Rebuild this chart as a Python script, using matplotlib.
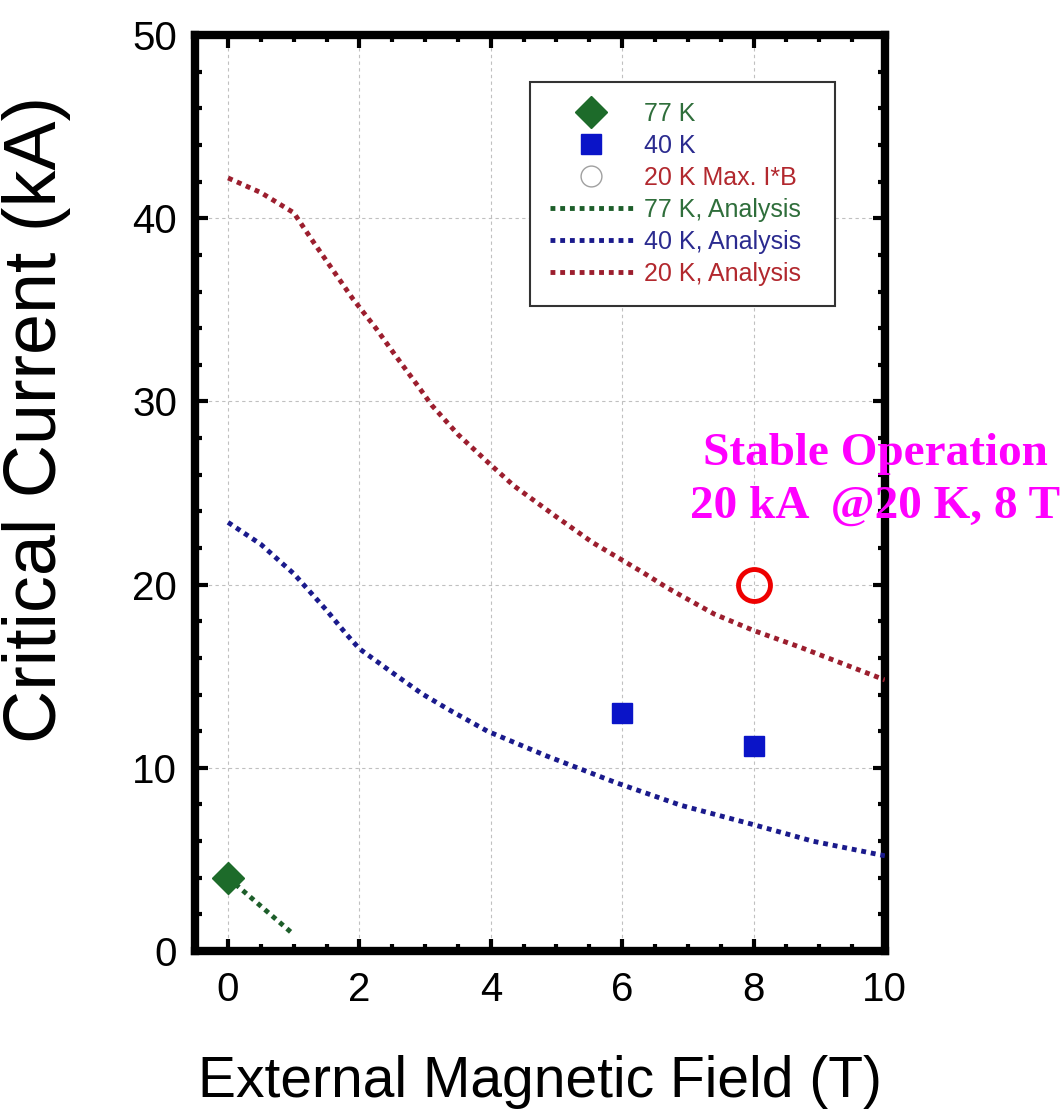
import matplotlib
matplotlib.use("Agg")
import matplotlib.pyplot as plt
from matplotlib.lines import Line2D
from matplotlib.ticker import MultipleLocator

plt.rcParams["font.family"] = ["Liberation Sans", "DejaVu Sans"]

# analysis curves
x20 = [0, 0.5, 1.0, 1.3, 1.6, 1.9, 2.25, 2.55, 2.9, 3.1, 3.5, 3.95, 4.35, 5.0,
       5.55, 6.3, 6.7, 7.4, 8.0, 8.7, 10.0]
i20 = [42.2, 41.4, 40.3, 38.7, 37.15, 35.6, 34.0, 32.5, 30.8, 29.8, 28.2, 26.7,
       25.4, 23.7, 22.3, 20.7, 19.8, 18.4, 17.5, 16.6, 14.8]
x40 = [0, 0.5, 1.0, 1.15, 1.5, 1.8, 2.0, 2.5, 2.95, 3.35, 3.95, 4.85, 5.9,
       6.9, 8.0, 8.9, 10.0]
i40 = [23.4, 22.2, 20.6, 20.0, 18.6, 17.3, 16.5, 15.2, 14.05, 13.2, 12.0,
       10.65, 9.2, 7.95, 6.9, 6.0, 5.2]
x77 = [0, 1.0]
i77 = [4.0, 0.9]

# measured points
xm77 = [0]
im77 = [4.0]
xm40 = [6, 8]
im40 = [13.0, 11.2]
xstable = [8]
istable = [20]

legend_labels = ["77 K", "40 K", "20 K Max. I*B",
                 "77 K, Analysis", "40 K, Analysis", "20 K, Analysis"]
text_colors = ["#2f6e3b", "#2b2b8f", "#b2282e", "#2f6e3b", "#2b2b8f", "#b2282e"]

fig = plt.figure(figsize=(10.61, 11.13), dpi=100)
ax = fig.add_axes([0.184, 0.1455, 0.650, 0.823])

dots = (0, (1, 1))
l77, = ax.plot(x77, i77, color="#1d5e2a", lw=3.5, ls=dots, zorder=3)
l40, = ax.plot(x40, i40, color="#1a1a8c", lw=3.5, ls=dots, zorder=3)
l20, = ax.plot(x20, i20, color="#9c1e2e", lw=3.5, ls=dots, zorder=3)

m77, = ax.plot(xm77, im77, ls="none", marker="D", ms=16, color="#1d6b2a", zorder=4)
m40, = ax.plot(xm40, im40, ls="none", marker="s", ms=14, color="#0a14c8", zorder=4)
ax.plot(xstable, istable, ls="none", marker="o", ms=23, mfc="none",
        mec="#ee0000", mew=3.5, zorder=5)
# legend entry for the max I*B point is a thin grey circle in the original
circ = Line2D([], [], ls="none", marker="o", ms=15, mfc="white",
              mec="#a0a0a0", mew=1.0)

ax.set_xlim(-0.5, 10)
ax.set_ylim(0, 50)
ax.xaxis.set_major_locator(MultipleLocator(2))
ax.xaxis.set_minor_locator(MultipleLocator(0.5))
ax.yaxis.set_major_locator(MultipleLocator(10))
ax.yaxis.set_minor_locator(MultipleLocator(2))
ax.tick_params(which="both", direction="in", top=True, right=True,
               width=3, labelsize=29)
ax.tick_params(which="major", length=9)
ax.tick_params(which="minor", length=5)
ax.tick_params(axis="x", which="major", pad=14)
ax.tick_params(axis="y", which="major", pad=13)
for s in ax.spines.values():
    s.set_linewidth(6)
ax.grid(True, which="major", color="#c0c0c0", ls=(0, (3, 3)), lw=0.8, zorder=1)

ax.set_xlabel("External Magnetic Field (T)", fontsize=41, va="top")
ax.xaxis.set_label_coords(0.5, -0.114)
ax.set_ylabel("Critical Current (kA)", fontsize=53)
ax.yaxis.set_label_coords(-0.18, 0.58)

ax.text(9.85, 23.65, "Stable Operation\n20 kA  @20 K, 8 T", color="#ff00ff",
        family="Liberation Serif", weight="bold", fontsize=34, ha="center",
        va="baseline", multialignment="center", linespacing=1.35, clip_on=False)

leg = ax.legend([m77, m40, circ, l77, l40, l20], legend_labels,
                loc="upper left", bbox_to_anchor=(0.4855, 0.713, 0.442, 0.2358),
                mode="expand", borderaxespad=0, fontsize=18, handlelength=3.3,
                handletextpad=0.45, labelspacing=0.32, borderpad=0.8,
                fancybox=False, framealpha=1, edgecolor="#333333")
leg.get_frame().set_linewidth(1.5)
for t, c in zip(leg.get_texts(), text_colors):
    t.set_color(c)

fig.savefig("out.png", dpi=100)
